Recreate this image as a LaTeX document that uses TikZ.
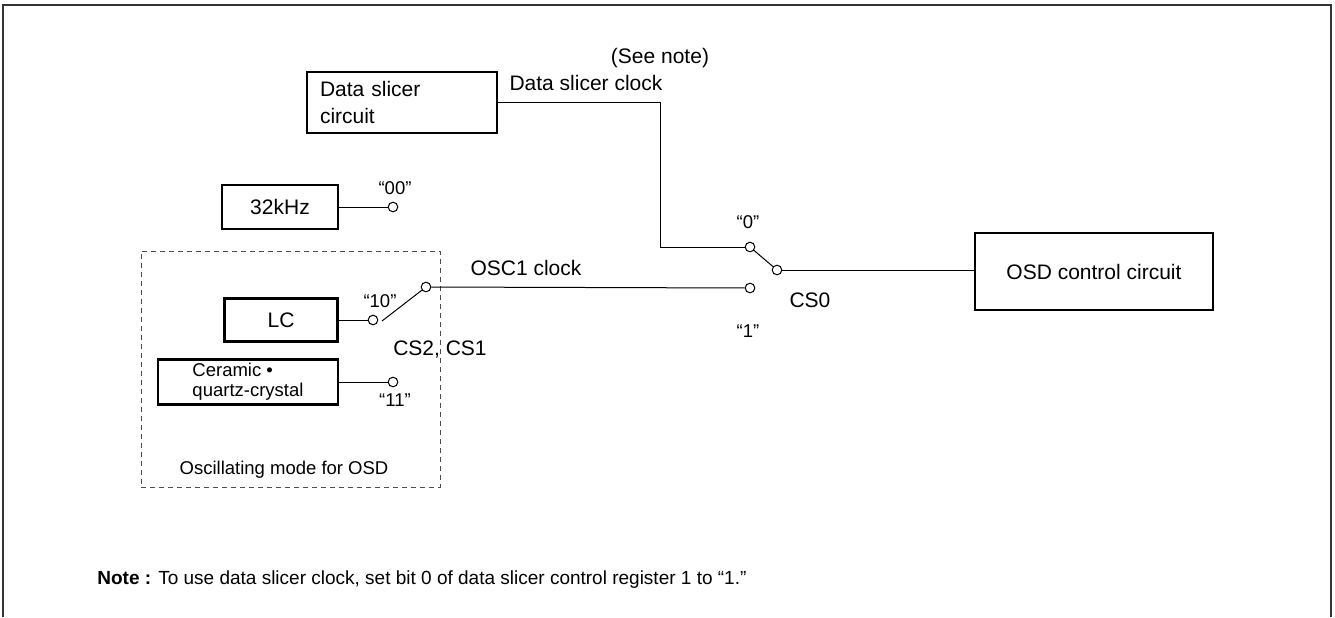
\documentclass[tikz,border=0pt]{standalone}
\usepackage{fontspec}
\setmainfont{Liberation Sans}
\begin{document}
\begin{tikzpicture}[x=0.5pt,y=-0.5pt,
  blk/.style={draw,line width=1.1pt,inner sep=0pt},
  term/.style={circle,draw,fill=white,line width=0.5pt,inner sep=0pt,minimum size=4.8pt},
  wire/.style={line width=0.5pt},
  lbl/.style={font=\fontsize{10.5}{13.5}\selectfont,inner sep=0pt},
  sml/.style={font=\fontsize{9.25}{10}\selectfont,inner sep=0pt}]
\useasboundingbox (0,0) rectangle (1335,617);
\draw[black!80,line width=1pt] (3,617) -- (3,5) -- (1331,5) -- (1331,617);
\node[draw=black!70,dash pattern=on 2.5pt off 2pt,line width=0.4pt,minimum width=149.5pt,minimum height=118pt,inner sep=0pt] (grp) at (290.5,369) {};
\node[blk,lbl,align=left,text width=82pt,inner xsep=6.5pt,minimum height=30.5pt] (ds) at (402,102.5) {Data slicer\\circuit};
\node[blk,lbl,minimum width=58pt,minimum height=22pt] (k32) at (280,207) {32kHz};
\node[blk,lbl,minimum width=56.5pt,minimum height=21.5pt] (lc) at (281,320) {LC};
\node[blk,sml,align=left,minimum width=90pt,minimum height=22.5pt] (cer) at (248,382) {Ceramic \textbullet\\quartz-crystal};
\node[blk,lbl,minimum width=119pt,minimum height=38.5pt] (osd) at (1094,271.5) {OSD control circuit};
\node[term] (c00) at (393,207) {};
\node[term] (c10) at (373,320) {};
\node[term] (c11) at (393,382) {};
\node[term] (sw) at (426,287) {};
\node[term] (c0) at (750,247) {};
\node[term] (c1) at (750,288) {};
\node[term] (cp) at (777,270) {};
\coordinate (dsk) at (660,247);
\coordinate (arm) at (382,321);
\draw[wire] (ds.east) -| (dsk) -- (c0);
\draw[wire] (k32) -- (c00);
\draw[wire] (lc) -- (c10);
\draw[wire] (cer) -- (c11);
\draw[wire] (arm) -- (sw);
\draw[wire] (sw) -- (c1);
\draw[wire] (c0) -- (cp);
\draw[wire] (cp) -- (cp -| osd.west);
\node[lbl] (seenote) at (660,58) {(See note)};
\node[lbl] (dsclk) at (586,83) {Data slicer clock};
\node[sml] (l00) at (395,188) {“00”};
\node[sml] (l10) at (380,301) {“10”};
\node[sml] (l11) at (395,400) {“11”};
\node[sml] (l0) at (748,222) {“0”};
\node[sml] (l1) at (748,331) {“1”};
\node[lbl] (cs0) at (810,300) {CS0};
\node[lbl] (cs21) at (440,350) {CS2, CS1};
\node[lbl] (osc) at (526,268) {OSC1 clock};
\node[sml] (mode) at (284,470) {Oscillating mode for OSD};
\node[sml,font=\fontsize{9.5}{11}\selectfont,anchor=west] (note) at (97,580) {\textbf{Note :} To use data slicer clock, set bit 0 of data slicer control register 1 to “1.”};
\end{tikzpicture}
\end{document}
